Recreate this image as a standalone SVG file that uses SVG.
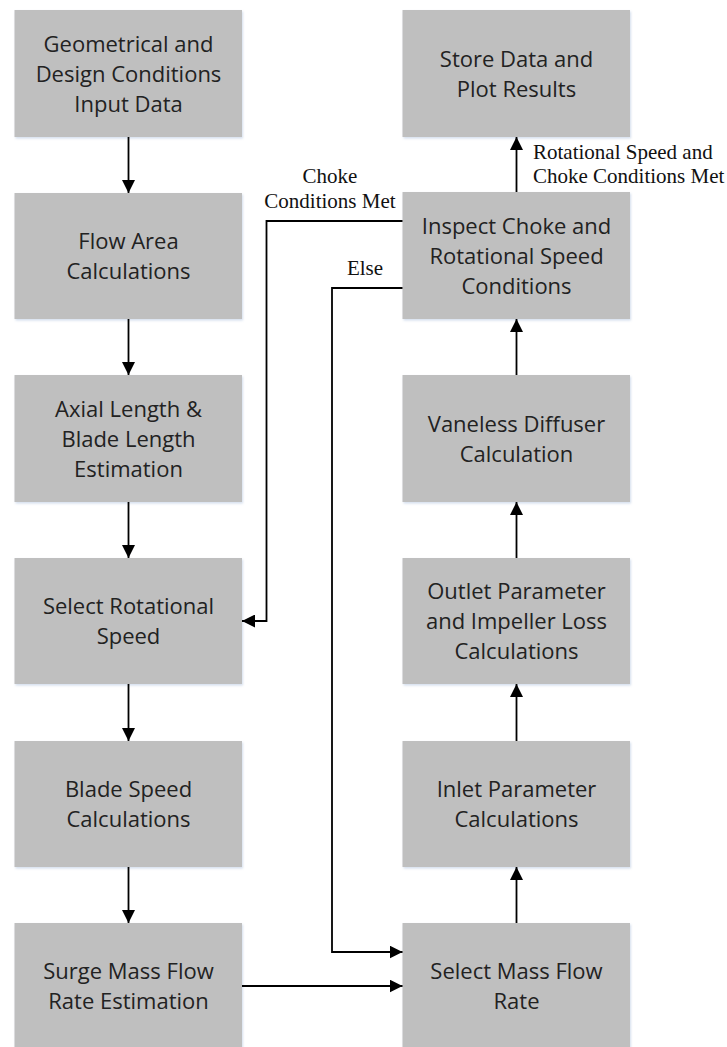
<svg xmlns="http://www.w3.org/2000/svg" width="727" height="1047" viewBox="0 0 727 1047">
  <style>
    .box { fill: #bfbfbf; filter: url(#halo); }
    .txt { font-family: "Open Sans", "Liberation Sans", sans-serif; font-size: 22px; fill: #222; text-anchor: middle; }
    .lbl { font-family: "Liberation Serif", "Times New Roman", serif; font-size: 21px; fill: #111; }
    .wire { fill: none; stroke: #000; stroke-width: 1.8; marker-end: url(#arrow); }
  </style>
  <defs>
    <marker id="arrow" markerUnits="userSpaceOnUse" markerWidth="14" markerHeight="13" refX="13" refY="6.5" orient="auto">
      <path d="M0,0 L13,6.5 L0,13 Z" fill="#000"/>
    </marker>
    <filter id="halo" x="-5%" y="-5%" width="110%" height="110%">
      <feDropShadow dx="1" dy="1.5" stdDeviation="1.2" flood-color="#9fb6d8" flood-opacity="0.45"/>
    </filter>
  </defs>

  <rect width="727" height="1047" fill="#fff"/>

  <!-- left column -->
  <g id="n-input">
    <rect class="box" x="14.5" y="10" width="227.5" height="127"/>
    <text class="txt" x="128.5" y="52">Geometrical and</text>
    <text class="txt" x="128.5" y="82">Design Conditions</text>
    <text class="txt" x="128.5" y="112">Input Data</text>
  </g>
  <g id="n-flowarea">
    <rect class="box" x="14.5" y="193" width="227.5" height="126"/>
    <text class="txt" x="128.5" y="248.5">Flow Area</text>
    <text class="txt" x="128.5" y="278.5">Calculations</text>
  </g>
  <g id="n-axial">
    <rect class="box" x="14.5" y="375" width="227.5" height="127"/>
    <text class="txt" x="128.5" y="417">Axial Length &amp;</text>
    <text class="txt" x="128.5" y="447">Blade Length</text>
    <text class="txt" x="128.5" y="477">Estimation</text>
  </g>
  <g id="n-rotspeed">
    <rect class="box" x="14.5" y="558" width="227.5" height="126"/>
    <text class="txt" x="128.5" y="613.5">Select Rotational</text>
    <text class="txt" x="128.5" y="643.5">Speed</text>
  </g>
  <g id="n-bladespeed">
    <rect class="box" x="14.5" y="741" width="227.5" height="126"/>
    <text class="txt" x="128.5" y="796.5">Blade Speed</text>
    <text class="txt" x="128.5" y="826.5">Calculations</text>
  </g>
  <g id="n-surge">
    <rect class="box" x="14.5" y="923" width="227.5" height="127"/>
    <text class="txt" x="128.5" y="979">Surge Mass Flow</text>
    <text class="txt" x="128.5" y="1009">Rate Estimation</text>
  </g>

  <!-- right column -->
  <g id="n-store">
    <rect class="box" x="402.5" y="10" width="227.5" height="127"/>
    <text class="txt" x="516.5" y="66.5">Store Data and</text>
    <text class="txt" x="516.5" y="96.5">Plot Results</text>
  </g>
  <g id="n-inspect">
    <rect class="box" x="402.5" y="192" width="227.5" height="127"/>
    <text class="txt" x="516.5" y="234">Inspect Choke and</text>
    <text class="txt" x="516.5" y="264">Rotational Speed</text>
    <text class="txt" x="516.5" y="294">Conditions</text>
  </g>
  <g id="n-vaneless">
    <rect class="box" x="402.5" y="375" width="227.5" height="127"/>
    <text class="txt" x="516.5" y="431.5">Vaneless Diffuser</text>
    <text class="txt" x="516.5" y="461.5">Calculation</text>
  </g>
  <g id="n-outlet">
    <rect class="box" x="402.5" y="558" width="227.5" height="126"/>
    <text class="txt" x="516.5" y="598.5">Outlet Parameter</text>
    <text class="txt" x="516.5" y="628.5">and Impeller Loss</text>
    <text class="txt" x="516.5" y="658.5">Calculations</text>
  </g>
  <g id="n-inlet">
    <rect class="box" x="402.5" y="741" width="227.5" height="126"/>
    <text class="txt" x="516.5" y="796.5">Inlet Parameter</text>
    <text class="txt" x="516.5" y="826.5">Calculations</text>
  </g>
  <g id="n-massflow">
    <rect class="box" x="402.5" y="923" width="227.5" height="127"/>
    <text class="txt" x="516.5" y="979">Select Mass Flow</text>
    <text class="txt" x="516.5" y="1009">Rate</text>
  </g>

  <!-- connectors -->
  <g id="connectors">
    <path class="wire" d="M128.5,137 V193"/>
    <path class="wire" d="M128.5,319 V375"/>
    <path class="wire" d="M128.5,502 V558"/>
    <path class="wire" d="M128.5,684 V741"/>
    <path class="wire" d="M128.5,867 V923"/>
    <path class="wire" d="M242,986 H402.5"/>
    <path class="wire" d="M516.5,923 V867"/>
    <path class="wire" d="M516.5,741 V684"/>
    <path class="wire" d="M516.5,558 V502"/>
    <path class="wire" d="M516.5,375 V319"/>
    <path class="wire" d="M516.5,192 V137"/>
    <path class="wire" d="M402.5,221 H266.5 V621 H242"/>
    <path class="wire" d="M402.5,288 H332 V952 H402.5"/>
  </g>

  <!-- connector labels -->
  <g id="labels">
    <text class="lbl" x="330" y="183" text-anchor="middle">Choke</text>
    <text class="lbl" x="330" y="208" text-anchor="middle">Conditions Met</text>
    <text class="lbl" x="365" y="275" text-anchor="middle">Else</text>
    <text class="lbl" x="533" y="159">Rotational Speed and</text>
    <text class="lbl" x="533" y="183">Choke Conditions Met</text>
  </g>
</svg>
